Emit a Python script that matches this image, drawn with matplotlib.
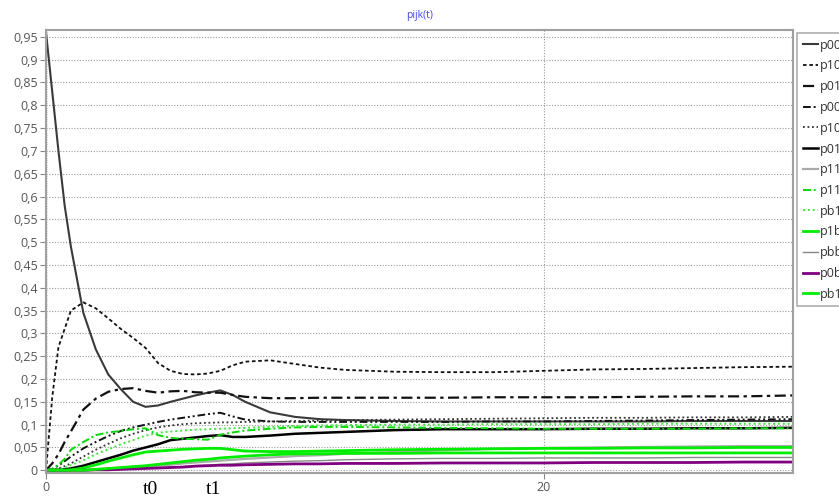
import matplotlib
matplotlib.use("Agg")
import matplotlib.pyplot as plt
import numpy as np
from matplotlib.ticker import MultipleLocator, FuncFormatter

# time points
t = [0, 0.25, 0.5, 0.75, 1, 1.5, 2, 2.5, 3, 3.5, 4, 4.5, 5, 5.5, 6, 6.5,
     7, 7.5, 8, 9, 10, 11, 12, 14, 16, 18, 20, 22, 24, 26, 28, 30]

p000 = [0.96, 0.83, 0.70, 0.58, 0.49, 0.345, 0.265, 0.21, 0.178, 0.15,
        0.139, 0.142, 0.150, 0.157, 0.164, 0.170, 0.175, 0.165, 0.150, 0.127,
        0.117, 0.112, 0.110, 0.108, 0.107, 0.107, 0.107, 0.107, 0.107, 0.108,
        0.108, 0.108]
p100 = [0, 0.16, 0.27, 0.31, 0.35, 0.368, 0.355, 0.333, 0.31, 0.29,
        0.268, 0.235, 0.218, 0.211, 0.21, 0.212, 0.218, 0.23, 0.238, 0.241,
        0.233, 0.225, 0.22, 0.216, 0.215, 0.215, 0.218, 0.221, 0.222, 0.224,
        0.226, 0.227]
p010 = [0, 0.015, 0.035, 0.062, 0.085, 0.133, 0.157, 0.172, 0.178, 0.18,
        0.174, 0.170, 0.173, 0.174, 0.171, 0.170, 0.170, 0.165, 0.161, 0.158,
        0.158, 0.159, 0.159, 0.159, 0.159, 0.160, 0.160, 0.160, 0.161, 0.162,
        0.162, 0.164]
p001 = [0, 0.003, 0.01, 0.02, 0.03, 0.048, 0.062, 0.075, 0.086, 0.094,
        0.1, 0.106, 0.111, 0.115, 0.119, 0.123, 0.126, 0.118, 0.111, 0.107,
        0.106, 0.106, 0.106, 0.106, 0.106, 0.107, 0.107, 0.108, 0.109, 0.110,
        0.111, 0.112]
p101 = [0, 0.001, 0.004, 0.009, 0.015, 0.03, 0.045, 0.058, 0.07, 0.08,
        0.088, 0.094, 0.098, 0.101, 0.103, 0.104, 0.105, 0.105, 0.106, 0.107,
        0.108, 0.109, 0.11, 0.111, 0.112, 0.113, 0.114, 0.115, 0.115, 0.116,
        0.116, 0.117]
p011 = [0, 0, 0.001, 0.002, 0.004, 0.01, 0.018, 0.026, 0.034, 0.043,
        0.05, 0.057, 0.066, 0.069, 0.072, 0.075, 0.077, 0.073, 0.073, 0.076,
        0.08, 0.082, 0.084, 0.088, 0.09, 0.09, 0.09, 0.091, 0.091, 0.092,
        0.092, 0.093]
p111 = [0, 0, 0, 0, 0, 0, 0.001, 0.002, 0.003, 0.005,
        0.007, 0.01, 0.012, 0.015, 0.017, 0.019, 0.021, 0.023, 0.025, 0.028,
        0.031, 0.033, 0.036, 0.04, 0.044, 0.047, 0.049, 0.05, 0.051, 0.052,
        0.053, 0.053]
p110 = [0, 0.003, 0.012, 0.025, 0.045, 0.062, 0.077, 0.083, 0.086, 0.09,
        0.092, 0.077, 0.071, 0.069, 0.068, 0.067, 0.078, 0.083, 0.087, 0.091,
        0.094, 0.095, 0.095, 0.094, 0.093, 0.092, 0.091, 0.091, 0.091, 0.091,
        0.092, 0.092]
pb10 = [0, 0, 0.002, 0.006, 0.011, 0.022, 0.035, 0.046, 0.057, 0.066,
        0.076, 0.082, 0.085, 0.087, 0.089, 0.09, 0.091, 0.092, 0.093, 0.095,
        0.097, 0.098, 0.099, 0.1, 0.1, 0.101, 0.101, 0.101, 0.102, 0.102,
        0.102, 0.102]
p1b1 = [0, 0, 0, 0, 0.001, 0.005, 0.012, 0.02, 0.027, 0.034,
        0.04, 0.042, 0.044, 0.046, 0.047, 0.048, 0.048, 0.045, 0.042, 0.041,
        0.041, 0.042, 0.043, 0.045, 0.046, 0.047, 0.048, 0.048, 0.049, 0.049,
        0.05, 0.05]
pbb1 = [0, 0, 0, 0, 0, 0, 0, 0.001, 0.002, 0.003,
        0.004, 0.005, 0.007, 0.008, 0.01, 0.011, 0.013, 0.014, 0.016, 0.018,
        0.02, 0.021, 0.023, 0.025, 0.026, 0.026, 0.027, 0.027, 0.027, 0.028,
        0.028, 0.028]
p0b1 = [0, 0, 0, 0, 0, 0, 0.001, 0.001, 0.002, 0.003,
        0.004, 0.005, 0.006, 0.007, 0.009, 0.01, 0.011, 0.011, 0.012, 0.013,
        0.014, 0.014, 0.015, 0.015, 0.016, 0.016, 0.016, 0.017, 0.017, 0.017,
        0.018, 0.018]
pb11 = [0, 0, 0, 0, 0, 0, 0.002, 0.004, 0.006, 0.008,
        0.01, 0.013, 0.016, 0.019, 0.022, 0.024, 0.027, 0.029, 0.031, 0.034,
        0.036, 0.036, 0.037, 0.037, 0.038, 0.038, 0.038, 0.038, 0.038, 0.038,
        0.038, 0.038]

labels = ["p000", "p100", "p010", "p001", "p101", "p011", "p111",
          "p110", "pb10", "p1b1", "pbb1", "p0b1", "pb11"]
series = [p000, p100, p010, p001, p101, p011, p111,
          p110, pb10, p1b1, pbb1, p0b1, pb11]
styles = [
    dict(color="#3a3a3a", ls="-", lw=1.5),
    dict(color="#111111", ls=(0, (2, 1.5)), lw=1.3),
    dict(color="#111111", ls=(0, (5, 2, 1.5, 2)), lw=1.6),
    dict(color="#111111", ls=(0, (4, 1.5, 1, 1.5, 1, 1.5)), lw=1.4),
    dict(color="#333333", ls=(0, (1, 1.5)), lw=1.3),
    dict(color="#000000", ls="-", lw=1.8),
    dict(color="#aaaaaa", ls="-", lw=1.6),
    dict(color="#00dd00", ls=(0, (4, 1.5, 1, 1.5)), lw=1.4),
    dict(color="#33ee33", ls=(0, (1, 1.5)), lw=1.4),
    dict(color="#00ee00", ls="-", lw=2.0),
    dict(color="#888888", ls="-", lw=1.0),
    dict(color="#800080", ls="-", lw=2.0),
    dict(color="#00ee00", ls="-", lw=2.0),
]


def main():
    plt.rcParams["font.family"] = ["Open Sans", "DejaVu Sans"]
    fig = plt.figure(figsize=(8.39, 4.98), dpi=100)
    ax = fig.add_axes([46 / 839, 25 / 498, 747 / 839, 443 / 498])

    for name, y, st in zip(labels, series, styles):
        ax.plot(t, y, label=name, **st)

    ax.set_xlim(0, 30)
    ax.set_ylim(-0.006, 0.965)

    ax.yaxis.set_major_locator(MultipleLocator(0.05))
    ax.yaxis.set_minor_locator(MultipleLocator(0.005))
    ax.xaxis.set_major_locator(MultipleLocator(20))
    fmt = FuncFormatter(lambda v, p: f"{round(v, 3):g}".replace(".", ","))
    ax.yaxis.set_major_formatter(fmt)
    ax.xaxis.set_major_formatter(fmt)

    ax.tick_params(axis="both", which="major", labelsize=9, labelcolor="#555555",
                   color="#888888", length=4, width=0.8, pad=2)
    ax.tick_params(axis="y", which="minor", length=2, width=0.6,
                   color="#aaaaaa", direction="inout")
    ax.grid(True, which="major", color="#999999", ls=(0, (1, 1.5)), lw=0.8)

    for sp in ax.spines.values():
        sp.set_color("#a0a0a0")
        sp.set_linewidth(1.5)

    ax.set_title("pijk(t)", fontsize=7.5, color="#4646ff", pad=9)

    # legend, partly cut off at the right edge
    leg = fig.legend(loc="upper left", bbox_to_anchor=(797 / 839, 1 - 33 / 498),
                     fontsize=9, frameon=True, fancybox=False, borderpad=0.46,
                     handlelength=1.2, handletextpad=0.15, labelspacing=0.62,
                     borderaxespad=0)
    leg.get_frame().set_edgecolor("#999999")
    leg.get_frame().set_linewidth(1.2)
    for txt in leg.get_texts():
        txt.set_color("#333333")

    # t0 / t1 marks
    fig.text(150 / 839, 1 - 489 / 498, "t0", family="Liberation Serif",
             fontsize=14, ha="center", va="center")
    fig.text(213 / 839, 1 - 489 / 498, "t1", family="Liberation Serif",
             fontsize=14, ha="center", va="center")

    fig.savefig("out.png", dpi=100)


if __name__ == "__main__":
    main()
